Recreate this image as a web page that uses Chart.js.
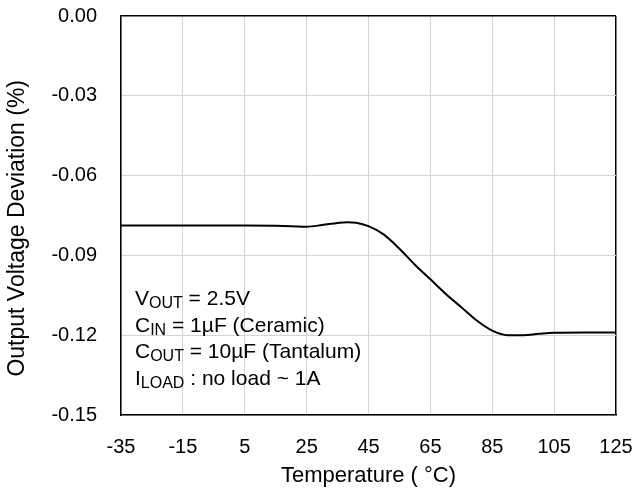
<!DOCTYPE html>
<html>
<head>
<meta charset="utf-8">
<script src="https://cdn.jsdelivr.net/npm/chart.js@4/dist/chart.umd.min.js"></script>
<style>
  html, body { margin: 0; padding: 0; background: #fff; }
  canvas { display: block; }
</style>
</head>
<body>
<canvas id="chart" width="635" height="491"></canvas>
<script>
const FONT = "'Liberation Sans', Arial, sans-serif";
const GRID = '#d4d4d4';

// temperature (°C) and output voltage deviation (%)
const temps = [-35, -25, -15, -5, 5, 15, 20, 25, 30, 35, 38, 41, 45, 50, 55, 60, 65, 70, 75, 80, 85, 90, 95, 100, 105, 115, 125];
const deviation = [-0.0788, -0.0788, -0.0788, -0.0788, -0.0788, -0.0789, -0.0790, -0.0792, -0.0786, -0.0778, -0.0775, -0.0777, -0.0790, -0.0822, -0.0875, -0.0935, -0.0990, -0.1045, -0.1095, -0.1145, -0.1183, -0.1200, -0.1200, -0.1195, -0.1191, -0.1190, -0.1190];

const xTicks = [-35, -15, 5, 25, 45, 65, 85, 105, 125];
const yTicks = [0, -0.03, -0.06, -0.09, -0.12, -0.15];

// conditions box: [main, subscript, rest]
const notes = [
  ['V', 'OUT', ' = 2.5V'],
  ['C', 'IN', ' = 1\u00b5F (Ceramic)'],
  ['C', 'OUT', ' = 10\u00b5F (Tantalum)'],
  ['I', 'LOAD', ' : no load ~ 1A'],
];

const notesPlugin = {
  id: 'notes',
  afterDatasetsDraw(chart) {
    const { ctx, chartArea } = chart;
    ctx.save();
    ctx.fillStyle = '#000';
    ctx.textBaseline = 'alphabetic';
    ctx.textAlign = 'left';
    notes.forEach((n, i) => {
      let x = chartArea.left + 14;
      const y = chartArea.bottom - 110 + i * 26.7;
      ctx.font = `21px ${FONT}`;
      ctx.fillText(n[0], x, y);
      x += ctx.measureText(n[0]).width;
      ctx.font = `16px ${FONT}`;
      ctx.fillText(n[1], x, y + 3);
      x += ctx.measureText(n[1]).width;
      ctx.font = `21px ${FONT}`;
      ctx.fillText(n[2], x, y);
    });
    ctx.restore();
  },
};

new Chart(document.getElementById('chart'), {
  type: 'line',
  data: {
    datasets: [{
      data: temps.map((t, i) => ({ x: t, y: deviation[i] })),
      borderColor: '#000',
      borderWidth: 2,
      pointRadius: 0,
      cubicInterpolationMode: 'monotone',
      fill: false,
    }],
  },
  options: {
    responsive: false,
    animation: false,
    layout: { padding: { top: 16, right: 19, left: 0, bottom: 0 } },
    plugins: { legend: { display: false }, tooltip: { enabled: false } },
    scales: {
      x: {
        type: 'linear',
        min: xTicks[0], max: xTicks[xTicks.length - 1],
        afterBuildTicks: (s) => { s.ticks = xTicks.map(v => ({ value: v })); },
        afterFit: (s) => { s.height = 76; s.paddingLeft = 0; s.paddingRight = 0; },
        grid: {
          drawTicks: false,
          color: (c) => c.index === xTicks.length - 1 ? '#000' : GRID,
          lineWidth: (c) => c.index === xTicks.length - 1 ? 1.5 : 1,
        },
        border: { color: '#000', width: 1.5 },
        ticks: { padding: 20, color: '#000', font: { size: 20, family: FONT } },
        title: { display: true, text: 'Temperature ( \u00b0C)', color: '#000', font: { size: 22, family: FONT }, padding: { top: 0, bottom: 2 } },
      },
      y: {
        min: yTicks[yTicks.length - 1], max: yTicks[0],
        afterBuildTicks: (s) => { s.ticks = yTicks.slice().reverse().map(v => ({ value: v })); },
        afterFit: (s) => { s.width = 121; s.paddingTop = 0; s.paddingBottom = 0; },
        grid: {
          drawTicks: false,
          color: (c) => c.index === yTicks.length - 1 ? '#000' : GRID,
          lineWidth: (c) => c.index === yTicks.length - 1 ? 1.5 : 1,
        },
        border: { color: '#000', width: 1.5 },
        ticks: {
          padding: 24, color: '#000', font: { size: 20, family: FONT },
          callback: (v) => Math.abs(v) < 1e-9 ? '0.00' : v.toFixed(2),
        },
        title: { display: true, text: 'Output Voltage Deviation (%)    ', color: '#000', font: { size: 23, family: FONT }, padding: { top: 4, bottom: 0 } },
      },
    },
  },
  plugins: [notesPlugin],
});
</script>
</body>
</html>
